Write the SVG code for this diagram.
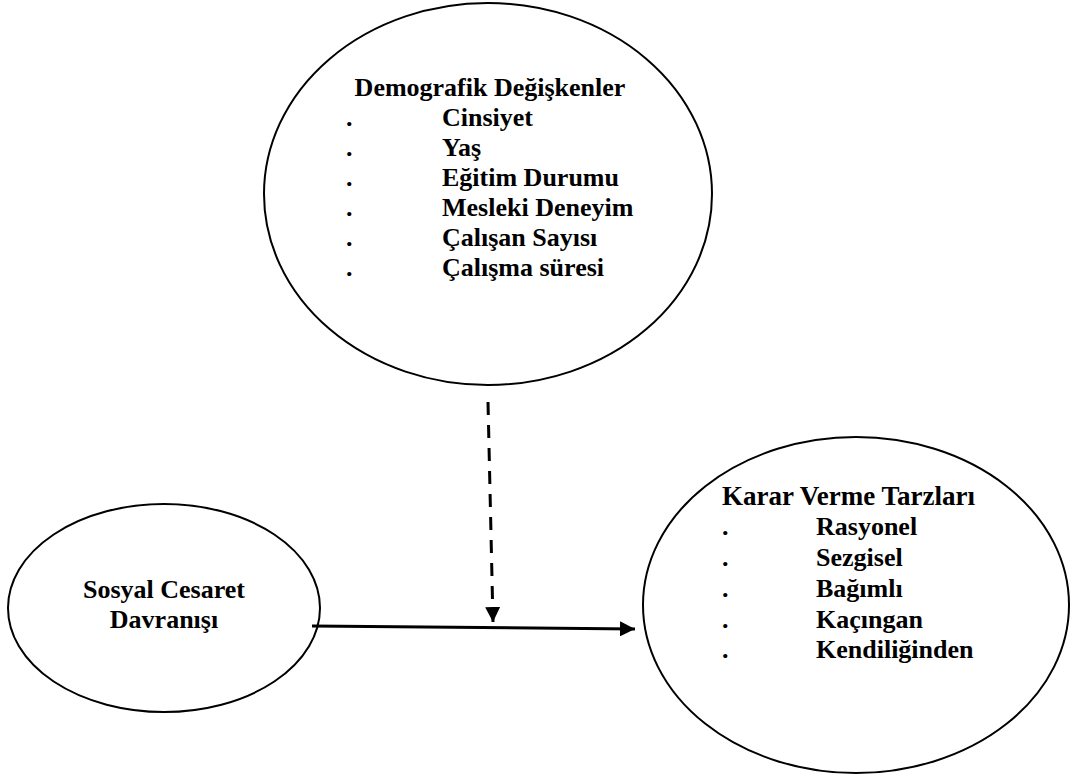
<svg xmlns="http://www.w3.org/2000/svg" width="1071" height="775" viewBox="0 0 1071 775">
<style>
.n{fill:none;stroke:#000;stroke-width:2}
.t{font-family:"Liberation Serif","Times New Roman",serif;font-weight:bold;font-size:26px;fill:#000}
</style>
<defs>
<marker id="ah" viewBox="0 0 10 10" refX="10" refY="5" markerWidth="5" markerHeight="5" orient="auto" markerUnits="strokeWidth">
<path d="M0,0 L10,5 L0,10 Z" fill="#000"/>
</marker>
</defs>
<rect width="1071" height="775" fill="#fff"/>
<g id="demografik">
<ellipse class="n" cx="488" cy="194" rx="224" ry="191"/>
<text class="t" x="490" y="96" text-anchor="middle">Demografik Değişkenler</text>
<g class="t">
<text x="346" y="126">.</text><text x="442" y="126">Cinsiyet</text>
<text x="346" y="156">.</text><text x="442" y="156">Yaş</text>
<text x="346" y="186">.</text><text x="442" y="186">Eğitim Durumu</text>
<text x="346" y="216">.</text><text x="442" y="216">Mesleki Deneyim</text>
<text x="346" y="246">.</text><text x="442" y="246">Çalışan Sayısı</text>
<text x="346" y="276">.</text><text x="442" y="276">Çalışma süresi</text>
</g>
</g>
<g id="sosyal">
<ellipse class="n" cx="164" cy="608" rx="156" ry="104"/>
<text class="t" x="164" y="598" text-anchor="middle">Sosyal Cesaret</text>
<text class="t" x="164" y="628" text-anchor="middle">Davranışı</text>
</g>
<g id="karar">
<ellipse class="n" cx="856" cy="605" rx="213" ry="168"/>
<text class="t" x="722" y="505" style="font-size:27px">Karar Verme Tarzları</text>
<g class="t">
<text x="722" y="535">.</text><text x="816" y="535">Rasyonel</text>
<text x="722" y="566">.</text><text x="816" y="566">Sezgisel</text>
<text x="722" y="597">.</text><text x="816" y="597">Bağımlı</text>
<text x="722" y="628">.</text><text x="816" y="628">Kaçıngan</text>
<text x="722" y="658">.</text><text x="816" y="658">Kendiliğinden</text>
</g>
</g>
<g id="connectors">
<line x1="312" y1="626" x2="635" y2="629" stroke="#000" stroke-width="3" marker-end="url(#ah)"/>
<line x1="488" y1="402" x2="493" y2="622" stroke="#000" stroke-width="3" stroke-dasharray="13,10" marker-end="url(#ah)"/>
</g>
</svg>
